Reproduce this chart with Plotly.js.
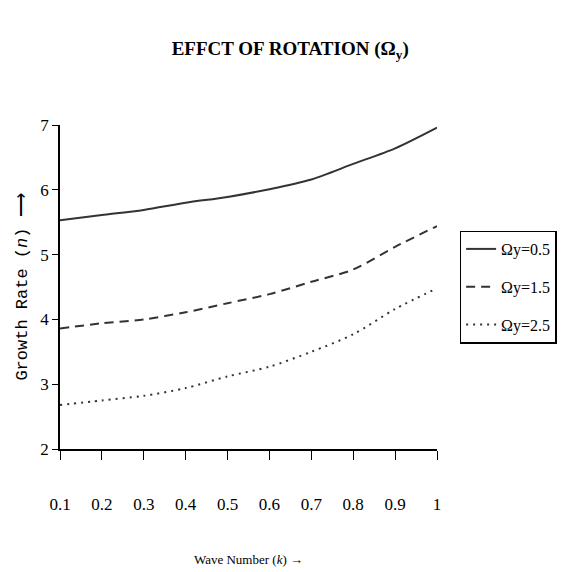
<!DOCTYPE html>
<html><head><meta charset="utf-8">
<script src="https://cdn.plot.ly/plotly-3.0.1.min.js"></script>
<style>html,body{margin:0;padding:0;background:#fff}#chart{width:569px;height:572px}</style>
</head><body><div id="chart"></div>
<script>
const waveNumber = [0.1, 0.2, 0.3, 0.4, 0.5, 0.6, 0.7, 0.8, 0.9, 1.0];
const rate05 = [5.53, 5.61, 5.69, 5.80, 5.89, 6.01, 6.16, 6.40, 6.64, 6.96];
const rate15 = [3.86, 3.94, 4.00, 4.11, 4.25, 4.39, 4.58, 4.77, 5.12, 5.44];
const rate25 = [2.68, 2.75, 2.82, 2.94, 3.12, 3.27, 3.50, 3.77, 4.16, 4.48];
const seriesNames = ['Ωy=0.5', 'Ωy=1.5', 'Ωy=2.5'];
const xTicks = [0.1, 0.2, 0.3, 0.4, 0.5, 0.6, 0.7, 0.8, 0.9, 1];
const xTickText = ['0.1','0.2','0.3','0.4','0.5','0.6','0.7','0.8','0.9','1'];
const yTicks = [2, 3, 4, 5, 6, 7];

const lineColor = '#333333';
const traces = [
  {x: waveNumber, y: rate05, name: seriesNames[0], legendgroup: 'a', mode: 'lines', line: {color: lineColor, width: 2, dash: 'solid', shape: 'spline', smoothing: 0.8}},
  {x: waveNumber, y: rate15, name: seriesNames[1], legendgroup: 'b', mode: 'lines', line: {color: lineColor, width: 2, dash: '9px,6px', shape: 'spline', smoothing: 0.8}},
  {x: waveNumber, y: rate25, name: seriesNames[2], legendgroup: 'c', mode: 'lines', line: {color: lineColor, width: 2, dash: '2px,5px', shape: 'spline', smoothing: 0.8}}
];

const layout = {
  width: 569, height: 572,
  margin: {l: 60, r: 130, t: 125, b: 123},
  paper_bgcolor: '#fff', plot_bgcolor: '#fff',
  showlegend: true,
  title: {text: 'EFFCT OF ROTATION (Ω<sub>y</sub>)', x: 0.51, xanchor: 'center', y: 0.915, yanchor: 'middle',
    font: {family: 'Liberation Serif', size: 19, color: '#000', weight: 'bold'}},
  font: {family: 'Liberation Serif', color: '#000'},
  xaxis: {
    range: [0.1, 1], tickvals: xTicks, ticktext: xTickText,
    showline: true, linecolor: '#000', linewidth: 1.5, mirror: false,
    ticks: 'outside', ticklen: 9, tickwidth: 1, tickcolor: '#000',
    ticklabelstandoff: 30, showgrid: false, zeroline: false,
    tickfont: {family: 'Liberation Serif', size: 17, color: '#000', weight: 'normal'},
    title: {text: 'Wave Number (<i>k</i>) →', standoff: 42, font: {family: 'Liberation Serif', size: 13, color: '#000'}}
  },
  yaxis: {
    range: [2, 7], tickvals: yTicks,
    showline: true, linecolor: '#000', linewidth: 1.5,
    ticks: 'outside', ticklen: 6, tickwidth: 1, tickcolor: '#000',
    showgrid: false, zeroline: false,
    tickfont: {family: 'Liberation Serif', size: 17, color: '#000'},
    title: {text: 'Growth Rate (<i>n</i>) ⟶', standoff: 8, font: {family: 'Liberation Mono', size: 17, color: '#000'}}
  },
  legend: {
    x: 1.06, xanchor: 'left', y: 0.5, yanchor: 'middle',
    bordercolor: '#000', borderwidth: 1.5, bgcolor: '#fff',
    font: {family: 'Liberation Serif', size: 16, color: '#000'},
    traceorder: 'grouped', tracegroupgap: 14, itemwidth: 30
  }
};
Plotly.newPlot('chart', traces, layout, {displayModeBar: false});
</script></body></html>
